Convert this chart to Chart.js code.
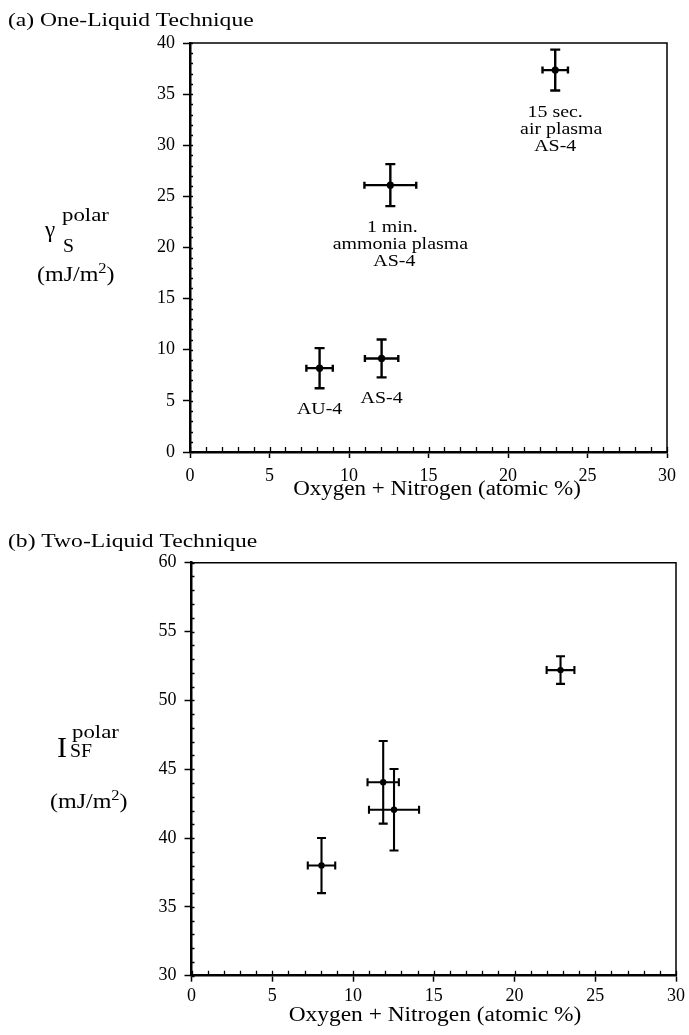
<!DOCTYPE html>
<html>
<head>
<meta charset="utf-8">
<script src="https://cdn.jsdelivr.net/npm/chart.js@4/dist/chart.umd.min.js"></script>
<style>
  html, body { margin: 0; padding: 0; background: #fff; }
  #page { position: relative; width: 689px; height: 1035px; overflow: hidden; }
  #panelA { position: absolute; left: 0; top: 0; }
  #panelB { position: absolute; left: 0; top: 520px; }
</style>
</head>
<body>
<div id="page">
  <canvas id="panelA" width="689" height="520"></canvas>
  <canvas id="panelB" width="689" height="515"></canvas>
</div>
<script>
// ---------- data ----------
// x: oxygen + nitrogen content (atomic %), y: polar surface energy term (mJ/m^2)
const xRange = [0, 30];
const majorStep = 5;
const minorStep = 1;

// (a) one-liquid technique
const oneLiquidX    = [8.15, 12.05, 12.6, 22.97];
const oneLiquidY    = [8.2, 9.15, 26.1, 37.35];
const oneLiquidXErr = [0.83, 1.05, 1.63, 0.8];
const oneLiquidYErr = [1.96, 1.85, 2.05, 2.0];
const oneLiquidNames = [
  ["AU-4"],
  ["AS-4"],
  ["1 min.", "ammonia plasma", "AS-4"],
  ["15 sec.", "air plasma", "AS-4"]
];
const oneLiquidYRange = [0, 40];

// (b) two-liquid technique
const twoLiquidX    = [8.05, 11.87, 12.54, 22.85];
const twoLiquidY    = [38.0, 44.05, 42.05, 52.2];
const twoLiquidXErr = [0.85, 0.97, 1.55, 0.86];
const twoLiquidYErr = [2.0, 3.0, 2.96, 1.0];
const twoLiquidYRange = [30, 60];

const panelTitles = ["(a) One-Liquid Technique", "(b) Two-Liquid Technique"];
const xAxisTitle = "Oxygen + Nitrogen (atomic %)";

// ---------- helpers ----------
const SERIF = '"Liberation Serif", "Times New Roman", Times, serif';

function drawText(ctx, text, x, y, size, align, sx) {
  ctx.save();
  ctx.font = size + 'px ' + SERIF;
  ctx.fillStyle = '#000';
  ctx.textBaseline = 'alphabetic';
  ctx.textAlign = align;
  ctx.translate(x, y);
  ctx.scale(sx, 1);
  ctx.fillText(text, 0, 0);
  const w = ctx.measureText(text).width * sx;
  ctx.restore();
  return w;
}

function toPoints(xs, ys, xe, ye) {
  return xs.map((x, i) => ({ x: x, y: ys[i], xErr: xe[i], yErr: ye[i] }));
}

// error bars with caps, drawn beneath the markers
function errorBarPlugin(lineWidth, capW, capH) {
  return {
    id: 'errorBars',
    beforeDatasetsDraw(chart) {
      const ctx = chart.ctx, xs = chart.scales.x, ys = chart.scales.y;
      ctx.save();
      ctx.strokeStyle = '#000';
      ctx.lineWidth = lineWidth;
      chart.data.datasets[0].data.forEach(p => {
        const px = xs.getPixelForValue(p.x), py = ys.getPixelForValue(p.y);
        const x0 = xs.getPixelForValue(p.x - p.xErr), x1 = xs.getPixelForValue(p.x + p.xErr);
        const y0 = ys.getPixelForValue(p.y - p.yErr), y1 = ys.getPixelForValue(p.y + p.yErr);
        ctx.beginPath();
        ctx.moveTo(x0, py); ctx.lineTo(x1, py);
        ctx.moveTo(px, y0); ctx.lineTo(px, y1);
        ctx.moveTo(x0, py - capH); ctx.lineTo(x0, py + capH);
        ctx.moveTo(x1, py - capH); ctx.lineTo(x1, py + capH);
        ctx.moveTo(px - capW, y0); ctx.lineTo(px + capW, y0);
        ctx.moveTo(px - capW, y1); ctx.lineTo(px + capW, y1);
        ctx.stroke();
      });
      ctx.restore();
    }
  };
}

// closed frame on top/right plus small inward minor ticks
const framePlugin = {
  id: 'frame',
  afterDraw(chart) {
    const ctx = chart.ctx, a = chart.chartArea, xs = chart.scales.x, ys = chart.scales.y;
    ctx.save();
    ctx.strokeStyle = '#000';
    ctx.lineWidth = 1.5;
    ctx.beginPath();
    ctx.moveTo(a.left, a.top); ctx.lineTo(a.right, a.top); ctx.lineTo(a.right, a.bottom);
    ctx.stroke();
    ctx.lineWidth = 1.3;
    ctx.beginPath();
    for (let v = xs.min; v <= xs.max; v += minorStep) {
      const px = Math.round(xs.getPixelForValue(v)) + 0.5;
      ctx.moveTo(px, a.bottom); ctx.lineTo(px, a.bottom - 5);
    }
    for (let v = ys.min; v <= ys.max; v += minorStep) {
      const py = Math.round(ys.getPixelForValue(v)) + 0.5;
      ctx.moveTo(a.left, py); ctx.lineTo(a.left + 3, py);
    }
    ctx.stroke();
    ctx.restore();
  }
};

function axisConfig(range, tickLen, pad, fitSize, isY) {
  return {
    type: 'linear',
    min: range[0],
    max: range[1],
    ticks: {
      stepSize: majorStep,
      autoSkip: false,
      maxRotation: 0,
      padding: pad,
      color: '#000',
      font: { family: SERIF, size: 18 }
    },
    grid: {
      drawOnChartArea: false,
      drawTicks: true,
      tickLength: tickLen,
      tickWidth: 1.5,
      tickColor: '#000'
    },
    border: { display: true, color: '#000', width: 2.5 },
    afterFit(scale) {
      if (isY) scale.width = fitSize; else scale.height = fitSize;
    }
  };
}

function makeChart(canvasId, points, yRange, padding, xPad, pointR, extraPlugins) {
  return new Chart(document.getElementById(canvasId), {
    type: 'scatter',
    data: {
      datasets: [{
        data: points,
        pointRadius: pointR,
        pointHoverRadius: pointR,
        pointBackgroundColor: '#000',
        pointBorderWidth: 0
      }]
    },
    options: {
      responsive: false,
      animation: false,
      events: [],
      layout: { padding: padding },
      plugins: { legend: { display: false }, tooltip: { enabled: false } },
      scales: {
        x: axisConfig(xRange, 6, xPad, 40, false),
        y: axisConfig(yRange, 7, 8, 60, true)
      }
    },
    plugins: [framePlugin].concat(extraPlugins)
  });
}

// ---------- panel (a) ----------
const labelLineShift = [[0], [0], [2, 10, 4], [0, 6, 0]];

const panelAText = {
  id: 'panelAText',
  afterDraw(chart) {
    const ctx = chart.ctx, xs = chart.scales.x, ys = chart.scales.y;
    drawText(ctx, panelTitles[0], 8, 26, 19, 'left', 1.24);
    drawText(ctx, xAxisTitle, 437, 495, 20, 'center', 1.15);
    // y-axis label: gamma_S^polar (mJ/m^2)
    drawText(ctx, '\u03B3', 45, 237, 23, 'left', 1.0);
    drawText(ctx, 'polar', 62, 221, 19, 'left', 1.2);
    drawText(ctx, 'S', 63, 252, 18, 'left', 1.1);
    let w = drawText(ctx, '(mJ/m', 37, 281, 20, 'left', 1.2);
    w += drawText(ctx, '2', 37 + w, 273, 15, 'left', 1.1);
    drawText(ctx, ')', 37 + w, 281, 20, 'left', 1.2);
    // sample names under each point
    oneLiquidNames.forEach((lines, i) => {
      const px = xs.getPixelForValue(oneLiquidX[i]);
      const base = ys.getPixelForValue(oneLiquidY[i] - oneLiquidYErr[i]) + 26;
      lines.forEach((t, k) => {
        drawText(ctx, t, px + labelLineShift[i][k], base + k * 17, 17, 'center', 1.17);
      });
    });
  }
};

makeChart('panelA',
  toPoints(oneLiquidX, oneLiquidY, oneLiquidXErr, oneLiquidYErr),
  oneLiquidYRange,
  { left: 130, top: 43, right: 22, bottom: 28 },
  7, 3.6,
  [errorBarPlugin(2.4, 5, 3.5), panelAText]);

// ---------- panel (b) ----------
const panelBText = {
  id: 'panelBText',
  afterDraw(chart) {
    const ctx = chart.ctx;
    drawText(ctx, panelTitles[1], 8, 27, 19, 'left', 1.24);
    drawText(ctx, xAxisTitle, 435, 501, 20, 'center', 1.17);
    // y-axis label: I_SF^polar (mJ/m^2)
    drawText(ctx, 'I', 57, 237, 30, 'left', 1.0);
    drawText(ctx, 'polar', 72, 218, 19, 'left', 1.2);
    drawText(ctx, 'SF', 70, 237, 18, 'left', 1.1);
    let w = drawText(ctx, '(mJ/m', 50, 288, 20, 'left', 1.2);
    w += drawText(ctx, '2', 50 + w, 280, 15, 'left', 1.1);
    drawText(ctx, ')', 50 + w, 288, 20, 'left', 1.2);
  }
};

makeChart('panelB',
  toPoints(twoLiquidX, twoLiquidY, twoLiquidXErr, twoLiquidYErr),
  twoLiquidYRange,
  { left: 131.5, top: 42.7, right: 11, bottom: 19.3 },
  4, 3.2,
  [errorBarPlugin(2.1, 4.5, 4), panelBText]);
</script>
</body>
</html>
